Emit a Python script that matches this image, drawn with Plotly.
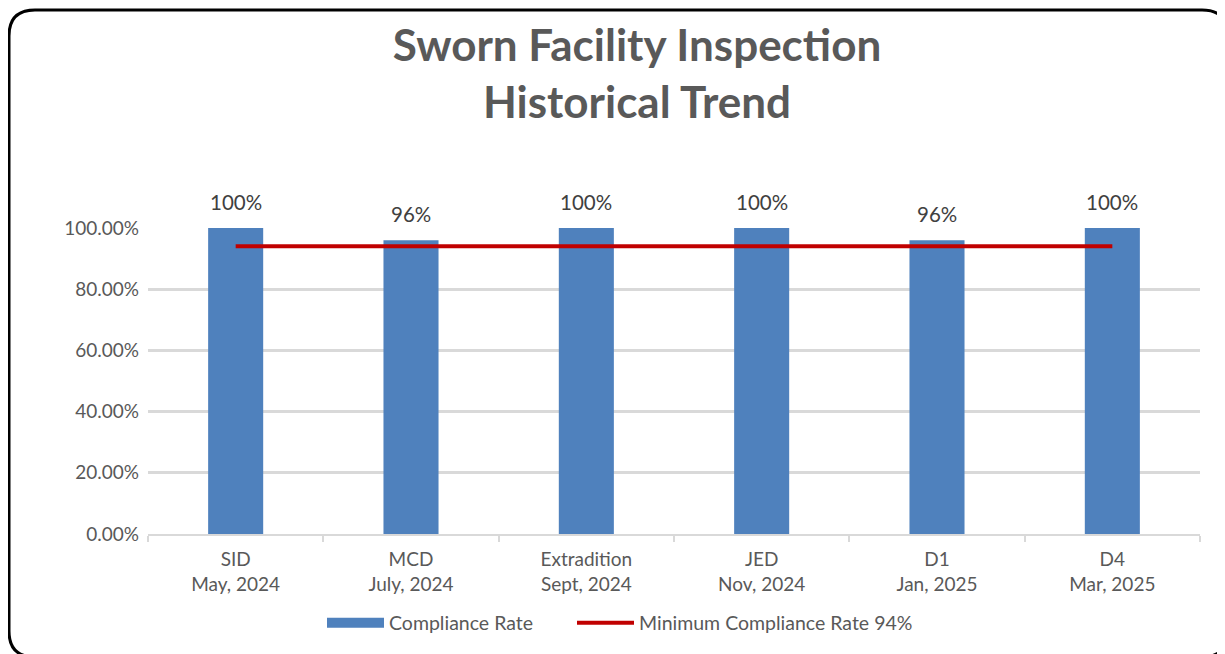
import plotly.graph_objects as go

categories = ["SID<br>May, 2024", "MCD<br>July, 2024", "Extradition<br>Sept, 2024",
              "JED<br>Nov, 2024", "D1<br>Jan, 2025", "D4<br>Mar, 2025"]
compliance = [1.00, 0.96, 1.00, 1.00, 0.96, 1.00]
minimum = [0.94, 0.94, 0.94, 0.94, 0.94, 0.94]
labels = ["100%", "96%", "100%", "100%", "96%", "100%"]

OFF = 8  # page body margin
W, H = 1225 - OFF, 654 - OFF
L, R, T, B = 148 - OFF, 1200 - OFF, 228 - OFF, 534 - OFF

def px2x(px):
    return (px - OFF - L) / (R - L)

def py2y(py):
    return (B - (py - OFF)) / (B - T)

FONT = "Lato"
BLUE = "#4F81BD"
RED = "#C00000"
fig = go.Figure()
fig.add_trace(go.Bar(x=categories, y=compliance, name="Compliance Rate",
                     marker=dict(color=BLUE, line=dict(width=0)), showlegend=False))
fig.add_trace(go.Scatter(x=[None], y=[None], name="Compliance Rate", mode="lines",
                         line=dict(color=BLUE, width=12), showlegend=True, legend="legend"))
fig.add_trace(go.Scatter(x=categories, y=minimum, name="Minimum Compliance Rate 94%",
                         mode="lines", line=dict(color=RED, width=4), legend="legend2"))

for c, v, t in zip(categories, compliance, labels):
    fig.add_annotation(x=c, y=v, text=t, showarrow=False, yshift=26,
                       font=dict(family=FONT, size=20.5, color="#404040"))

# rounded border (page pixel coords)
x0, x1, y0, y1, r = 9, 1228, 10, 657, 26
xa, xb = px2x(x0), px2x(x1)
ya, yb = py2y(y0), py2y(y1)
rx = r / (R - L)
ry = r / (B - T)
path = (f"M {xa+rx},{ya} L {xb-rx},{ya} Q {xb},{ya} {xb},{ya-ry} "
        f"L {xb},{yb+ry} Q {xb},{yb} {xb-rx},{yb} "
        f"L {xa+rx},{yb} Q {xa},{yb} {xa},{yb+ry} "
        f"L {xa},{ya-ry} Q {xa},{ya} {xa+rx},{ya} Z")
fig.add_shape(type="path", path=path, xref="paper", yref="paper",
              line=dict(color="black", width=3), layer="above")

legend_common = dict(orientation="h", xanchor="left", y=py2y(623), yanchor="middle",
                     font=dict(family=FONT, size=19.5, color="#595959"),
                     itemwidth=57, bgcolor="rgba(0,0,0,0)")

fig.update_layout(
    width=W, height=H,
    margin=dict(l=L, r=W - R, t=T, b=H - B, autoexpand=False),
    paper_bgcolor="white", plot_bgcolor="white",
    title=dict(text="<b>Sworn Facility Inspection<br>Historical Trend</b>",
               x=px2x(637), xref="paper", xanchor="center",
               y=1 - (61 - OFF) / H, yanchor="middle",
               font=dict(family=FONT, size=44, color="#595959")),
    bargap=0.686,
    showlegend=True,
    legend=dict(x=px2x(322), **legend_common),
    legend2=dict(x=px2x(572), **legend_common),
    font=dict(family=FONT, color="#595959"),
)
fig.update_xaxes(type="category", showgrid=False, showline=True, linecolor="#D9D9D9",
                 linewidth=2, ticks="outside", tickson="boundaries", ticklen=6,
                 tickcolor="#D9D9D9", tickwidth=2, ticklabelstandoff=7,
                 tickfont=dict(family=FONT, size=19, color="#595959"))
fig.update_yaxes(range=[0, 1], dtick=0.2, tickformat=".2%", showgrid=True,
                 gridcolor="#D9D9D9", gridwidth=3, zeroline=False, showline=False,
                 ticks="", ticklabelstandoff=8,
                 tickfont=dict(family=FONT, size=19, color="#595959"))

fig.write_html("out.html")
